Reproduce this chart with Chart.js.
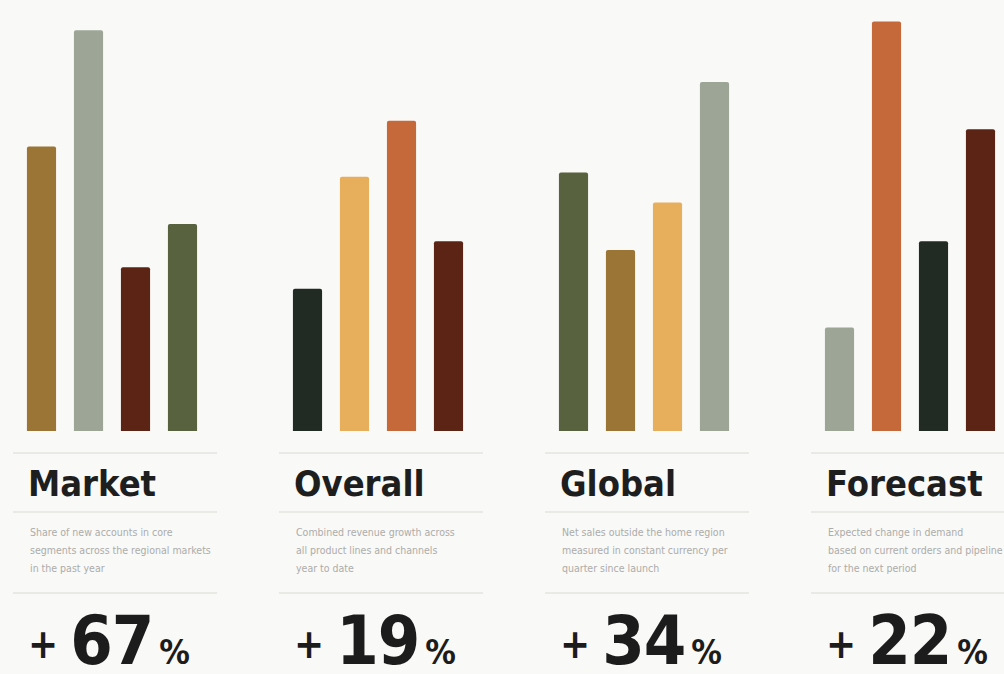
<!DOCTYPE html>
<html>
<head>
<meta charset="utf-8">
<script src="https://cdn.jsdelivr.net/npm/chart.js@4/dist/chart.umd.min.js"></script>
<style>
	body { margin: 0; background: #f9f9f7; overflow: hidden; width: 1004px; height: 674px; position: relative; font-family: "DejaVu Sans Condensed", "DejaVu Sans", sans-serif; }
	.card { position: absolute; top: 0; width: 266px; height: 674px; }
	.bars { position: absolute; left: 18px; top: 0; width: 188px; height: 431px; }
	.rule { position: absolute; left: 13px; width: 204px; height: 2px; background: #e9e9e6; }
	.title { position: absolute; left: 28px; top: 466px; font-size: 36px; line-height: 1; font-weight: bold; color: #1e1e1e; }
	.desc { position: absolute; left: 30px; top: 523px; width: 190px; font-size: 10.5px; line-height: 18px; color: #acacaa; white-space: nowrap; }
	.change { position: absolute; left: 28px; top: 607px; display: flex; align-items: baseline; font-weight: bold; color: #1c1c1c; line-height: 1; }
	.change .sign { font-size: 40px; margin-right: 12px; position: relative; top: -6px; }
	.change .num { font-size: 68px; letter-spacing: -1px; }
	.change .pct { font-size: 34px; margin-left: 6px; }
</style>
</head>
<body>
<div id="cards"></div>
<script>
const panels = ['Market', 'Overall', 'Global', 'Forecast'];
const quarters = ['Q1', 'Q2', 'Q3', 'Q4'];
const changes = [67, 19, 34, 22];

const marketValues = [66, 93, 38, 48];
const overallValues = [33, 59, 72, 44];
const globalValues = [60, 42, 53, 81];
const forecastValues = [24, 95, 44, 70];

const notes = [
	['Share of new accounts in core', 'segments across the regional markets', 'in the past year'],
	['Combined revenue growth across', 'all product lines and channels', 'year to date'],
	['Net sales outside the home region', 'measured in constant currency per', 'quarter since launch'],
	['Expected change in demand', 'based on current orders and pipeline', 'for the next period']
];

const values = [marketValues, overallValues, globalValues, forecastValues];

// palette
const tan = '#9a7535', sage = '#9ca596', rust = '#5c2415', olive = '#59623f';
const charcoal = '#212a23', sand = '#e7ae5b', copper = '#c5683a';
const colors = [
	[tan, sage, rust, olive],
	[charcoal, sand, copper, rust],
	[olive, tan, sand, sage],
	[sage, copper, charcoal, rust]
];

function renderCard(name, index) {
	return `<div class="card" style="left:${index * 266}px">
				<div class="bars"><canvas id="chart${index}" width="188" height="431"></canvas></div>
				<div class="rule" style="top:452px"></div>
				<div class="title">${name}</div>
				<div class="rule" style="top:511px"></div>
				<div class="desc">${notes[index].join('<br>')}</div>
				<div class="rule" style="top:592px"></div>
				<div class="change"><span class="sign">+</span><span class="num">${changes[index]}</span><span class="pct">%</span></div>
			</div>`;
}

let html = "";
panels.forEach((name, index) => html += renderCard(name, index));
document.getElementById('cards').innerHTML = html;

panels.forEach((name, index) => {
	new Chart(document.getElementById('chart' + index), {
		type: 'bar',
		data: {
			labels: quarters,
			datasets: [{
				label: name,
				data: values[index],
				backgroundColor: colors[index],
				borderRadius: 2,
				borderSkipped: 'bottom',
				barPercentage: 0.62,
				categoryPercentage: 1
			}]
		},
		options: {
			responsive: false,
			animation: false,
			layout: { padding: 0 },
			plugins: { legend: { display: false }, tooltip: { enabled: false } },
			scales: {
				x: { display: false },
				y: { display: false, min: 0, max: 100 }
			}
		}
	});
});
</script>
</body>
</html>
